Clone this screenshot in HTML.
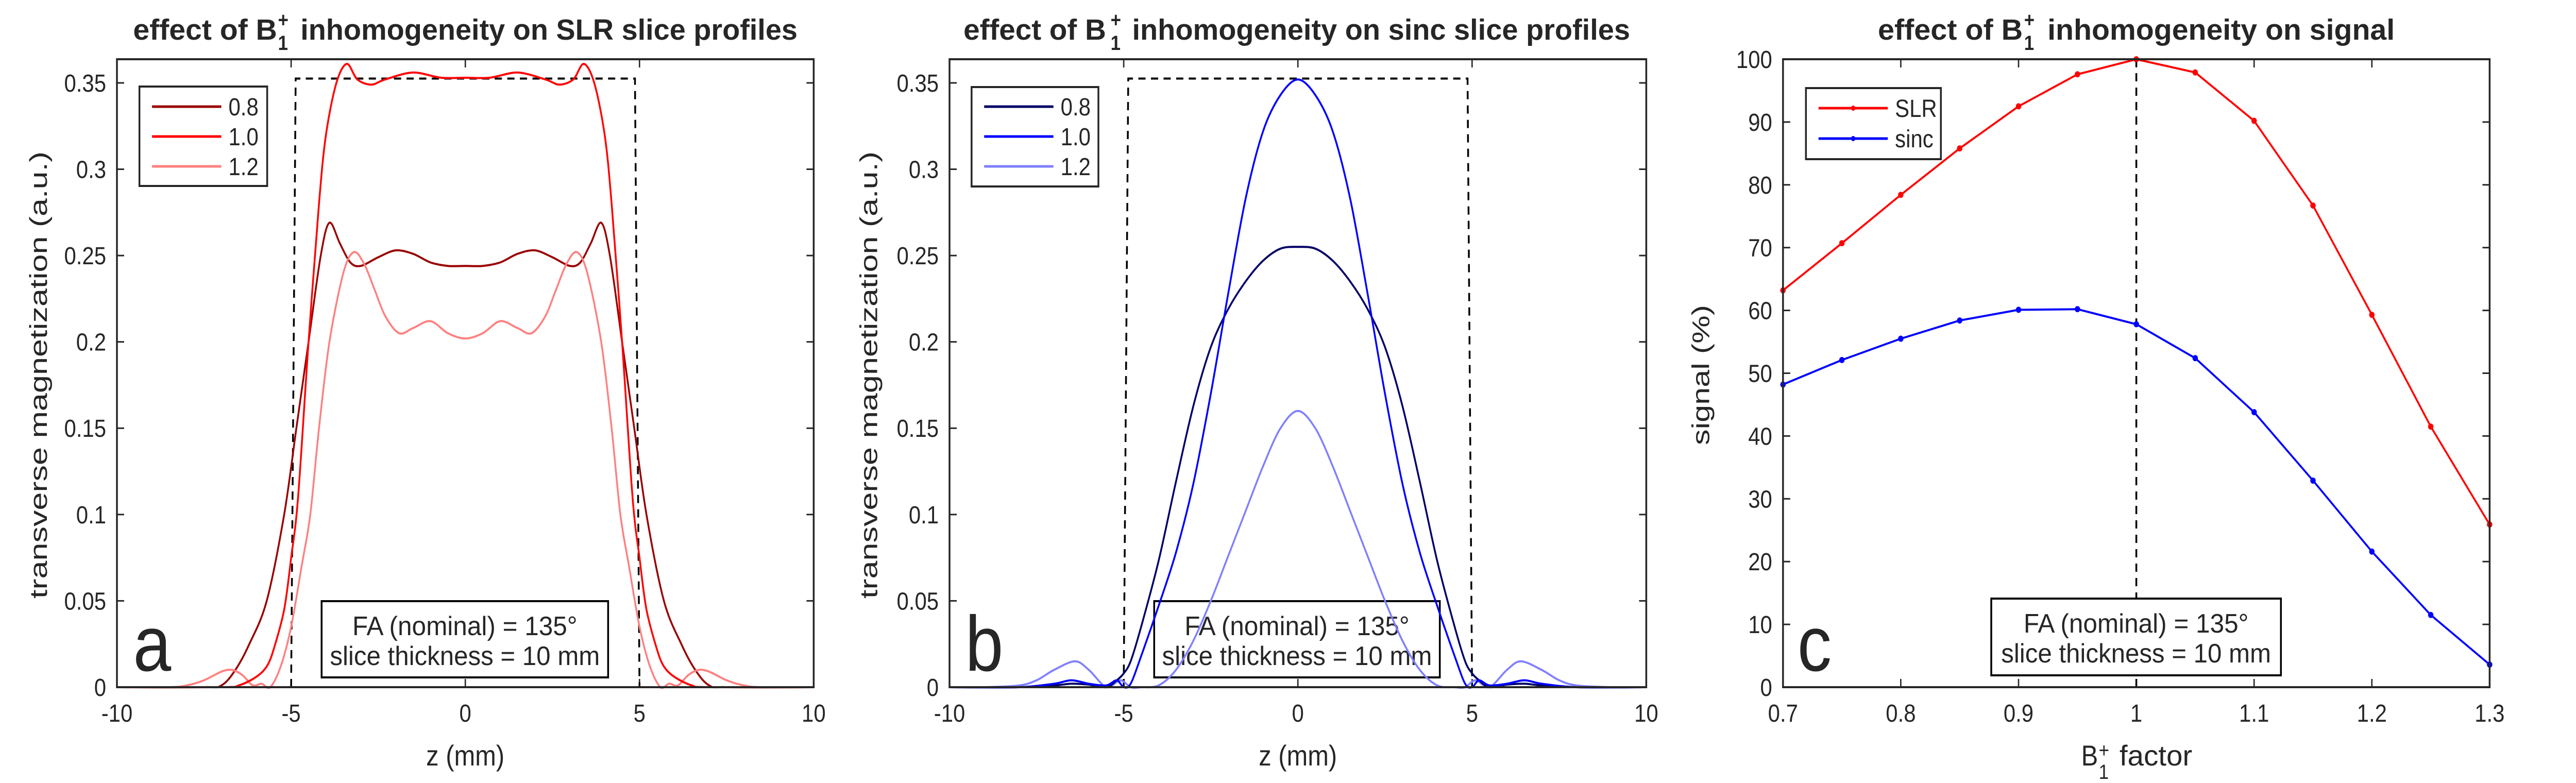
<!DOCTYPE html>
<html><head><meta charset="utf-8">
<style>
html,body{margin:0;padding:0;background:#fff;overflow:hidden;width:100%;height:100%;}
svg{display:block;width:100vw;height:100vh;}
text{font-family:"Liberation Sans","DejaVu Sans",sans-serif;fill:#262626;}
</style></head>
<body>
<svg id="fig" xmlns="http://www.w3.org/2000/svg" viewBox="0 0 5727 1520" preserveAspectRatio="none"></svg>
<script>
// ---------- data ----------
const slrZ08 = [-10,-7.5,-7,-6.6,-6.2,-5.7,-5.2,-4.85,-4.5,-4.15,-3.9,-3.6,-3.3,-3.0,-2.5,-2.0,-1.5,-1,-0.5,0,0.5,1,1.5,2.0,2.5,3.0,3.3,3.6,3.9,4.15,4.5,4.85,5.2,5.7,6.2,6.6,7,7.5,10];
const slrM08 = [0,0,0.001,0.01,0.025,0.05,0.1,0.15,0.2,0.25,0.269,0.257,0.246,0.244,0.249,0.253,0.251,0.246,0.244,0.244,0.244,0.246,0.251,0.253,0.249,0.244,0.246,0.257,0.269,0.25,0.2,0.15,0.1,0.05,0.025,0.01,0.001,0,0];
const slrZ10 = [-10,-7,-6.5,-6,-5.7,-5.5,-5.2,-5,-4.8,-4.5,-4.2,-4,-3.7,-3.4,-3.1,-2.7,-2.3,-1.5,-0.7,0,0.7,1.5,2.3,2.7,3.1,3.4,3.7,4,4.2,4.5,4.8,5,5.2,5.5,5.7,6,6.5,7,10];
const slrM10 = [0,0,0.001,0.006,0.012,0.022,0.045,0.075,0.11,0.2,0.28,0.32,0.35,0.361,0.352,0.349,0.352,0.356,0.353,0.353,0.353,0.356,0.352,0.349,0.352,0.361,0.35,0.32,0.28,0.2,0.11,0.075,0.045,0.022,0.012,0.006,0.001,0,0];
const slrZ12 = [-10,-8.5,-8,-7.5,-7,-6.7,-6.4,-6.1,-5.85,-5.6,-5.3,-5.0,-4.7,-4.45,-4.2,-3.9,-3.5,-3.2,-2.9,-2.6,-2.3,-1.9,-1.5,-1.0,-0.5,0,0.5,1.0,1.5,1.9,2.3,2.6,2.9,3.2,3.5,3.9,4.2,4.45,4.7,5.0,5.3,5.6,5.85,6.1,6.4,6.7,7,7.5,8,8.5,10];
const slrM12 = [0,0,0.001,0.004,0.009,0.01,0.007,0.001,0.002,0,0.012,0.035,0.07,0.1,0.15,0.2,0.24,0.252,0.245,0.23,0.215,0.205,0.208,0.212,0.205,0.202,0.205,0.212,0.208,0.205,0.215,0.23,0.245,0.252,0.24,0.2,0.15,0.1,0.07,0.035,0.012,0,0.002,0.001,0.007,0.01,0.009,0.004,0.001,0,0];

const sincZ = [-10,-8,-7,-6.5,-6,-5.5,-5.2,-5,-4.8,-4.5,-4,-3.5,-3,-2.5,-2,-1.5,-1,-0.5,0,0.5,1,1.5,2,2.5,3,3.5,4,4.5,4.8,5,5.2,5.5,6,6.5,7,8,10];
const sincM08 = [0,0,0.001,0.002,0.0015,0,0.004,0.008,0.015,0.035,0.073,0.119,0.163,0.197,0.219,0.235,0.247,0.254,0.255,0.254,0.247,0.235,0.219,0.197,0.163,0.119,0.073,0.035,0.015,0.008,0.004,0,0.0015,0.002,0.001,0,0];
const sincM10 = [0,0,0.002,0.004,0.002,0.001,0.004,0,0.002,0.018,0.047,0.078,0.118,0.17,0.228,0.283,0.322,0.343,0.352,0.343,0.322,0.283,0.228,0.17,0.118,0.078,0.047,0.018,0.002,0,0.004,0.001,0.002,0.004,0.002,0,0];
const sincZ12 = [-10,-9,-8,-7.5,-7,-6.4,-6,-5.5,-5.1,-4.8,-4.5,-4,-3.5,-3,-2.5,-2,-1.5,-1,-0.5,0,0.5,1,1.5,2,2.5,3,3.5,4,4.5,4.8,5.1,5.5,6,6.4,7,7.5,8,9,10];
const sincM12 = [0,0,0.001,0.004,0.01,0.015,0.01,0,0.004,0,0,0.001,0.01,0.027,0.05,0.076,0.102,0.128,0.15,0.16,0.15,0.128,0.102,0.076,0.05,0.027,0.01,0.001,0,0,0.004,0,0.01,0.015,0.01,0.004,0.001,0,0];

const b1Factor = [0.7,0.75,0.8,0.85,0.9,0.95,1.0,1.05,1.1,1.15,1.2,1.25,1.3];
const signalSLR = [63.2,70.7,78.4,85.8,92.5,97.6,100,97.9,90.2,76.7,59.3,41.5,25.9];
const signalSinc = [48.2,52.1,55.5,58.4,60.1,60.2,57.8,52.4,43.8,32.9,21.6,11.5,3.6];

const zTicks = [-10,-5,0,5,10];
const zTickLabels = ['-10','-5','0','5','10'];
const mTicks = [0,0.05,0.1,0.15,0.2,0.25,0.3,0.35];
const mTickLabels = ['0','0.05','0.1','0.15','0.2','0.25','0.3','0.35'];
const fTicks = [0.7,0.8,0.9,1.0,1.1,1.2,1.3];
const fTickLabels = ['0.7','0.8','0.9','1','1.1','1.2','1.3'];
const sTicks = [0,10,20,30,40,50,60,70,80,90,100];
const sTickLabels = ['0','10','20','30','40','50','60','70','80','90','100'];

// ---------- helpers ----------
const NS = 'http://www.w3.org/2000/svg';
const svg = document.getElementById('fig');
function mk(tag, attrs, parent){
  const e = document.createElementNS(NS, tag);
  for (const k in attrs) e.setAttribute(k, attrs[k]);
  (parent||svg).appendChild(e);
  return e;
}
function smoothPath(pts){
  let d = 'M' + pts[0][0].toFixed(1) + ',' + pts[0][1].toFixed(1);
  for (let i=0;i<pts.length-1;i++){
    const p0 = pts[Math.max(0,i-1)], p1 = pts[i], p2 = pts[i+1], p3 = pts[Math.min(pts.length-1,i+2)];
    const t = 0.16;
    const c1 = [p1[0]+(p2[0]-p0[0])*t, p1[1]+(p2[1]-p0[1])*t];
    const c2 = [p2[0]-(p3[0]-p1[0])*t, p2[1]-(p3[1]-p1[1])*t];
    d += 'C'+c1[0].toFixed(1)+','+c1[1].toFixed(1)+' '+c2[0].toFixed(1)+','+c2[1].toFixed(1)+' '+p2[0].toFixed(1)+','+p2[1].toFixed(1);
  }
  return d;
}
const TOP = 115, BOT = 1334;

function makeAxes(g, L, R, xmin, xmax, ymin, ymax, xt, xtl, yt, ytl){
  const xa = v => L + (v - xmin)/(xmax - xmin)*(R - L);
  const ya = v => BOT - (v - ymin)/(ymax - ymin)*(BOT - TOP);
  xt.forEach((v,i)=>{
    const x = xa(v);
    const t1 = mk('line',{x1:x,y1:BOT,x2:x,y2:BOT-16,stroke:'#262626','stroke-width':3},g);
    
    
    const t2 = mk('line',{x1:x,y1:TOP,x2:x,y2:TOP+16,stroke:'#262626','stroke-width':3},g);
    
    
    const lb = mk('text',{x:x,y:1401,'text-anchor':'middle','font-size':48},g);
    lb.textContent = xtl[i];
    
    
  });
  yt.forEach((v,i)=>{
    const y = ya(v);
    const t1 = mk('line',{x1:L,y1:y,x2:L+16,y2:y,stroke:'#262626','stroke-width':3},g);
    
    
    const t2 = mk('line',{x1:R,y1:y,x2:R-16,y2:y,stroke:'#262626','stroke-width':3},g);
    
    
    const lb = mk('text',{x:L-24,y:y+17,'text-anchor':'end','font-size':48},g);
    lb.textContent = ytl[i];
    
    
  });
  return {xa, ya};
}
function frame(g, L, R){
  const f = mk('rect',{x:L,y:TOP,width:R-L,height:BOT-TOP,fill:'none',stroke:'#262626','stroke-width':4},g);
  
  
}
function title(g, x0, w1, xs, x2, w2, rest){
  const t = mk('text',{x:x0,y:77,'font-size':57,'font-weight':'bold',fill:'#000',textLength:w1,lengthAdjust:'spacingAndGlyphs'},g);
  t.textContent = 'effect of B';
  
  
  const sp = mk('text',{x:xs,y:52,'font-size':40,'font-weight':'bold',fill:'#000'},g);
  sp.textContent = '+';
  
  
  const sb = mk('text',{x:xs,y:97,'font-size':40,'font-weight':'bold',fill:'#000'},g);
  sb.textContent = '1';
  
  
  const t2 = mk('text',{x:x2,y:77,'font-size':57,'font-weight':'bold',fill:'#000',textLength:w2,lengthAdjust:'spacingAndGlyphs'},g);
  t2.textContent = rest;
  
  
}
function ylabel(g, x, txt, len){
  const t = mk('text',{x:x,y:728,'text-anchor':'middle','font-size':54,transform:'rotate(-90,'+x+',728)',textLength:len,lengthAdjust:'spacingAndGlyphs'},g);
  t.textContent = txt;
  
  
}
function annot(g, x, y, w, h){
  const r = mk('rect',{x:x,y:y,width:w,height:h,fill:'#fff',stroke:'#000','stroke-width':4},g);
  
  
  const cx = x + w/2;
  const a = mk('text',{x:cx,y:y+66,'text-anchor':'middle','font-size':52,fill:'#000',textLength:500,lengthAdjust:'spacingAndGlyphs'},g);
  a.textContent = 'FA (nominal) = 135°';
  
  
  const b = mk('text',{x:cx,y:y+124,'text-anchor':'middle','font-size':52,fill:'#000',textLength:600,lengthAdjust:'spacingAndGlyphs'},g);
  b.textContent = 'slice thickness = 10 mm';
  
  
}
function panelLetter(g, x, ch){
  const t = mk('text',{x:x,y:1302,'font-size':152,fill:'#000'},g);
  t.textContent = ch;
  
  
}
function legend(g, x, y, w, h, entries, marker){
  const r = mk('rect',{x:x,y:y,width:w,height:h,fill:'#fff',stroke:'#262626','stroke-width':4},g);
  
  
  entries.forEach((en,i)=>{
    const ly = en.y;
    const ln = mk('line',{x1:x+28,y1:ly,x2:x+182,y2:ly,stroke:en.c,'stroke-width':5},g);
    
    
    if (marker){
      const m = mk('circle',{cx:x+105,cy:ly,r:5,fill:en.c},g);
      
      
    }
    const t = mk('text',{x:x+198,y:ly+17,'font-size':48,fill:'#000'},g);
    t.textContent = en.t;
    
    
  });
}
function curve(g, xs, ys, ax, color, name){
  const pts = xs.map((v,i)=>[ax.xa(v), ax.ya(ys[i])]);
  const p = mk('path',{d:smoothPath(pts),fill:'none',stroke:color,'stroke-width':4,'stroke-linejoin':'round'},g);
  
  
}

// ---------- panel a ----------
(function(){
  const g = mk('g',{});
  
  
  const L=260,R=1809;
  const ax = makeAxes(g,L,R,-10,10,0,0.3637,zTicks,zTickLabels,mTicks,mTickLabels);
  const d = mk('path',{d:'M'+ax.xa(-5)+','+ax.ya(0)+' L'+ax.xa(-4.87)+','+ax.ya(0.3525)+' L'+ax.xa(4.87)+','+ax.ya(0.3525)+' L'+ax.xa(5)+','+ax.ya(0),fill:'none',stroke:'#000','stroke-width':4,'stroke-dasharray':'16,12'},g);
  
  
  curve(g,slrZ08,slrM08,ax,'#990000','slr-profile-0.8');
  curve(g,slrZ12,slrM12,ax,'#ff8080','slr-profile-1.2');
  curve(g,slrZ10,slrM10,ax,'#ff0000','slr-profile-1.0');
  frame(g,L,R);
  title(g,296,320,618,668,1105,'inhomogeneity on SLR slice profiles');
  ylabel(g,104,'transverse magnetization (a.u.)',868);
  const xl = mk('text',{x:(L+R)/2,y:1486,'text-anchor':'middle','font-size':56},g);
  xl.textContent = 'z (mm)';
  
  
  legend(g,310,168,284,193,[{t:'0.8',c:'#990000',y:207},{t:'1.0',c:'#ff0000',y:265},{t:'1.2',c:'#ff8080',y:323}],false);
  annot(g,715,1167,637,148);
  panelLetter(g,296,'a');
})();

// ---------- panel b ----------
(function(){
  const g = mk('g',{});
  
  
  const L=2111,R=3660;
  const ax = makeAxes(g,L,R,-10,10,0,0.3637,zTicks,zTickLabels,mTicks,mTickLabels);
  const d = mk('path',{d:'M'+ax.xa(-5)+','+ax.ya(0)+' L'+ax.xa(-4.87)+','+ax.ya(0.3525)+' L'+ax.xa(4.87)+','+ax.ya(0.3525)+' L'+ax.xa(5)+','+ax.ya(0),fill:'none',stroke:'#000','stroke-width':4,'stroke-dasharray':'16,12'},g);
  
  
  annot(g,2566,1167,635,148);
  curve(g,sincZ12,sincM12,ax,'#8080ff','sinc-profile-1.2');
  curve(g,sincZ,sincM08,ax,'#000066','sinc-profile-0.8');
  curve(g,sincZ,sincM10,ax,'#0000ff','sinc-profile-1.0');
  frame(g,L,R);
  title(g,2142,317,2469,2517,1107,'inhomogeneity on sinc slice profiles');
  ylabel(g,1950,'transverse magnetization (a.u.)',868);
  const xl = mk('text',{x:(L+R)/2,y:1486,'text-anchor':'middle','font-size':56},g);
  xl.textContent = 'z (mm)';
  
  
  legend(g,2160,169,282,193,[{t:'0.8',c:'#000066',y:207},{t:'1.0',c:'#0000ff',y:265},{t:'1.2',c:'#8080ff',y:323}],false);
  panelLetter(g,2146,'b');
})();

// ---------- panel c ----------
(function(){
  const g = mk('g',{});
  
  
  const L=3964,R=5535;
  const ax = makeAxes(g,L,R,0.7,1.3,0,100,fTicks,fTickLabels,sTicks,sTickLabels);
  const vl = mk('line',{x1:ax.xa(1),y1:ax.ya(0),x2:ax.xa(1),y2:ax.ya(100),stroke:'#000','stroke-width':4,'stroke-dasharray':'16,12'},g);
  
  
  annot(g,4427,1162,644,149);
  [[signalSLR,'#ff0000','slr'],[signalSinc,'#0000ff','sinc']].forEach(s=>{
    const pts = b1Factor.map((f,i)=>ax.xa(f).toFixed(1)+','+ax.ya(s[0][i]).toFixed(1)).join(' ');
    const pl = mk('polyline',{points:pts,fill:'none',stroke:s[1],'stroke-width':4},g);
    
    
    b1Factor.forEach((f,i)=>{
      const c = mk('circle',{cx:ax.xa(f),cy:ax.ya(s[0][i]),r:6,fill:s[1]},g);
      
      
    });
  });
  frame(g,L,R);
  title(g,4175,322,4500,4552,772,'inhomogeneity on signal');
  ylabel(g,3800,'signal (%)',272);
  const xb = mk('text',{x:4627,y:1486,'font-size':56},g);
  xb.textContent = 'B';
  
  
  const xsp = mk('text',{x:4666,y:1470,'font-size':40},g);
  xsp.textContent = '+';
  
  
  const xsb = mk('text',{x:4666,y:1512,'font-size':40},g);
  xsb.textContent = '1';
  
  
  const xf = mk('text',{x:4712,y:1486,'font-size':56,textLength:162,lengthAdjust:'spacingAndGlyphs'},g);
  xf.textContent = 'factor';
  
  
  legend(g,4015,171,300,138,[{t:'SLR',c:'#ff0000',y:210},{t:'sinc',c:'#0000ff',y:269}],true);
  panelLetter(g,3996,'c');
})();
</script>
</body></html>
